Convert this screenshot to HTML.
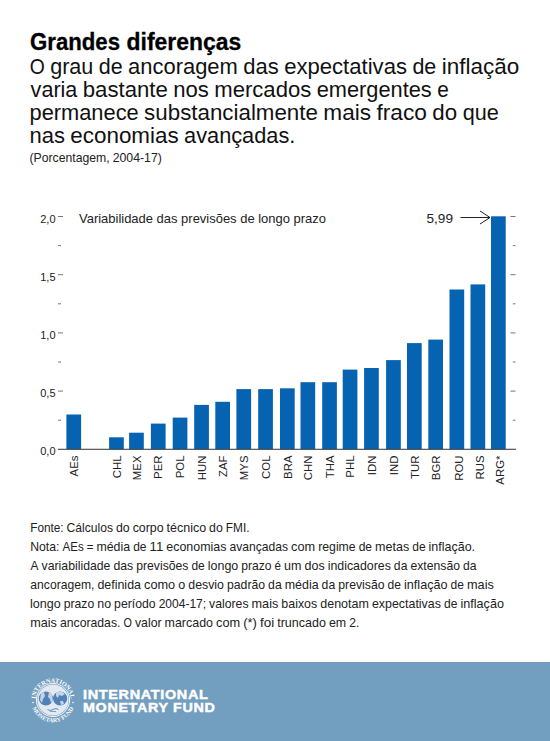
<!DOCTYPE html>
<html><head><meta charset="utf-8">
<style>
html,body{margin:0;padding:0;background:#fff;width:550px;height:741px;overflow:hidden}
svg{display:block;font-family:"Liberation Sans",sans-serif}
.lab{font-size:11.4px;fill:#222}
.ax{font-size:11px;fill:#222}
</style></head><body>
<svg width="550" height="741" viewBox="0 0 550 741">
<rect width="550" height="741" fill="#fff"/>
<text x="30.0" y="50.3" font-size="23.2" font-weight="bold" fill="#000" textLength="90.0" lengthAdjust="spacingAndGlyphs" stroke="#000" stroke-width="0.3">Grandes</text>
<text x="126.6" y="50.3" font-size="23.2" font-weight="bold" fill="#000" textLength="114.6" lengthAdjust="spacingAndGlyphs" stroke="#000" stroke-width="0.3">diferenças</text>
<text x="29.74" y="73.6" font-size="22.0" fill="#111" textLength="15.03" lengthAdjust="spacingAndGlyphs">O</text>
<text x="50.20" y="73.6" font-size="22.0" fill="#111" textLength="43.18" lengthAdjust="spacingAndGlyphs">grau</text>
<text x="98.79" y="73.6" font-size="22.0" fill="#111" textLength="23.91" lengthAdjust="spacingAndGlyphs">de</text>
<text x="128.12" y="73.6" font-size="22.0" fill="#111" textLength="109.73" lengthAdjust="spacingAndGlyphs">ancoragem</text>
<text x="243.27" y="73.6" font-size="22.0" fill="#111" textLength="35.49" lengthAdjust="spacingAndGlyphs">das</text>
<text x="284.18" y="73.6" font-size="22.0" fill="#111" textLength="122.80" lengthAdjust="spacingAndGlyphs">expectativas</text>
<text x="412.40" y="73.6" font-size="22.0" fill="#111" textLength="23.91" lengthAdjust="spacingAndGlyphs">de</text>
<text x="441.73" y="73.6" font-size="22.0" fill="#111" textLength="77.46" lengthAdjust="spacingAndGlyphs">inflação</text>
<text x="30.62" y="96.6" font-size="22.0" fill="#111" textLength="46.76" lengthAdjust="spacingAndGlyphs">varia</text>
<text x="82.78" y="96.6" font-size="22.0" fill="#111" textLength="84.99" lengthAdjust="spacingAndGlyphs">bastante</text>
<text x="173.17" y="96.6" font-size="22.0" fill="#111" textLength="35.69" lengthAdjust="spacingAndGlyphs">nos</text>
<text x="214.26" y="96.6" font-size="22.0" fill="#111" textLength="97.02" lengthAdjust="spacingAndGlyphs">mercados</text>
<text x="316.68" y="96.6" font-size="22.0" fill="#111" textLength="115.09" lengthAdjust="spacingAndGlyphs">emergentes</text>
<text x="437.18" y="96.6" font-size="22.0" fill="#111" textLength="11.55" lengthAdjust="spacingAndGlyphs">e</text>
<text x="29.52" y="119.5" font-size="22.0" fill="#111" textLength="109.18" lengthAdjust="spacingAndGlyphs">permanece</text>
<text x="144.13" y="119.5" font-size="22.0" fill="#111" textLength="173.78" lengthAdjust="spacingAndGlyphs">substancialmente</text>
<text x="323.34" y="119.5" font-size="22.0" fill="#111" textLength="47.72" lengthAdjust="spacingAndGlyphs">mais</text>
<text x="376.50" y="119.5" font-size="22.0" fill="#111" textLength="50.45" lengthAdjust="spacingAndGlyphs">fraco</text>
<text x="432.37" y="119.5" font-size="22.0" fill="#111" textLength="24.83" lengthAdjust="spacingAndGlyphs">do</text>
<text x="462.63" y="119.5" font-size="22.0" fill="#111" textLength="36.12" lengthAdjust="spacingAndGlyphs">que</text>
<text x="29.46" y="142.6" font-size="22.0" fill="#111" textLength="35.43" lengthAdjust="spacingAndGlyphs">nas</text>
<text x="70.34" y="142.6" font-size="22.0" fill="#111" textLength="108.27" lengthAdjust="spacingAndGlyphs">economias</text>
<text x="184.06" y="142.6" font-size="22.0" fill="#111" textLength="111.30" lengthAdjust="spacingAndGlyphs">avançadas.</text>
<text x="29.50" y="161.8" font-size="12.9" fill="#222" textLength="80.13" lengthAdjust="spacingAndGlyphs">(Porcentagem,</text>
<text x="112.68" y="161.8" font-size="12.9" fill="#222" textLength="49.20" lengthAdjust="spacingAndGlyphs">2004-17)</text>
<text x="79" y="222.7" font-size="12.8" fill="#222" textLength="247" lengthAdjust="spacingAndGlyphs">Variabilidade das previsões de longo prazo</text>
<text x="426.5" y="222.7" font-size="12.2" fill="#222" textLength="26.5" lengthAdjust="spacingAndGlyphs">5,99</text>
<path d="M460.5 217.5 H490 M480 211 L490 217.5 L480 224" stroke="#222" stroke-width="1" fill="none"/>
<rect x="66.40" y="414.50" width="14.7" height="34.80" fill="#0663b1"/>
<text transform="translate(77.95,455.5) rotate(-90)" text-anchor="end" class="lab">AEs</text>
<rect x="109.10" y="437.30" width="14.7" height="12.00" fill="#0663b1"/>
<text transform="translate(120.65,455.5) rotate(-90)" text-anchor="end" class="lab">CHL</text>
<rect x="129.10" y="432.70" width="14.7" height="16.60" fill="#0663b1"/>
<text transform="translate(140.65,455.5) rotate(-90)" text-anchor="end" class="lab">MEX</text>
<rect x="150.90" y="423.60" width="14.7" height="25.70" fill="#0663b1"/>
<text transform="translate(162.45,455.5) rotate(-90)" text-anchor="end" class="lab">PER</text>
<rect x="172.70" y="417.60" width="14.7" height="31.70" fill="#0663b1"/>
<text transform="translate(184.25,455.5) rotate(-90)" text-anchor="end" class="lab">POL</text>
<rect x="194.20" y="404.90" width="14.7" height="44.40" fill="#0663b1"/>
<text transform="translate(205.75,455.5) rotate(-90)" text-anchor="end" class="lab">HUN</text>
<rect x="215.30" y="401.80" width="14.7" height="47.50" fill="#0663b1"/>
<text transform="translate(226.85,455.5) rotate(-90)" text-anchor="end" class="lab">ZAF</text>
<rect x="236.40" y="389.10" width="14.7" height="60.20" fill="#0663b1"/>
<text transform="translate(247.95,455.5) rotate(-90)" text-anchor="end" class="lab">MYS</text>
<rect x="258.20" y="389.10" width="14.7" height="60.20" fill="#0663b1"/>
<text transform="translate(269.75,455.5) rotate(-90)" text-anchor="end" class="lab">COL</text>
<rect x="280.00" y="388.30" width="14.7" height="61.00" fill="#0663b1"/>
<text transform="translate(291.55,455.5) rotate(-90)" text-anchor="end" class="lab">BRA</text>
<rect x="300.50" y="382.20" width="14.7" height="67.10" fill="#0663b1"/>
<text transform="translate(312.05,455.5) rotate(-90)" text-anchor="end" class="lab">CHN</text>
<rect x="322.20" y="382.20" width="14.7" height="67.10" fill="#0663b1"/>
<text transform="translate(333.75,455.5) rotate(-90)" text-anchor="end" class="lab">THA</text>
<rect x="342.70" y="369.60" width="14.7" height="79.70" fill="#0663b1"/>
<text transform="translate(354.25,455.5) rotate(-90)" text-anchor="end" class="lab">PHL</text>
<rect x="364.10" y="368.00" width="14.7" height="81.30" fill="#0663b1"/>
<text transform="translate(375.65,455.5) rotate(-90)" text-anchor="end" class="lab">IDN</text>
<rect x="386.10" y="360.10" width="14.7" height="89.20" fill="#0663b1"/>
<text transform="translate(397.65,455.5) rotate(-90)" text-anchor="end" class="lab">IND</text>
<rect x="407.00" y="343.10" width="14.7" height="106.20" fill="#0663b1"/>
<text transform="translate(418.55,455.5) rotate(-90)" text-anchor="end" class="lab">TUR</text>
<rect x="428.30" y="339.60" width="14.7" height="109.70" fill="#0663b1"/>
<text transform="translate(439.85,455.5) rotate(-90)" text-anchor="end" class="lab">BGR</text>
<rect x="449.50" y="289.50" width="14.7" height="159.80" fill="#0663b1"/>
<text transform="translate(462.65,455.5) rotate(-90)" text-anchor="end" class="lab">ROU</text>
<rect x="470.50" y="284.40" width="14.7" height="164.90" fill="#0663b1"/>
<text transform="translate(483.65,455.5) rotate(-90)" text-anchor="end" class="lab">RUS</text>
<rect x="491.00" y="216.30" width="14.7" height="233.00" fill="#0663b1"/>
<text transform="translate(504.15,455.5) rotate(-90)" text-anchor="end" class="lab">ARG*</text>
<rect x="58" y="448.75" width="458" height="1.1" fill="#444"/>
<text x="55.5" y="455.30" text-anchor="end" class="ax">0,0</text>
<rect x="58" y="390.60" width="5" height="1" fill="#777"/>
<rect x="510.5" y="390.60" width="5" height="1" fill="#777"/>
<text x="55.5" y="397.10" text-anchor="end" class="ax">0,5</text>
<rect x="58" y="332.40" width="5" height="1" fill="#777"/>
<rect x="510.5" y="332.40" width="5" height="1" fill="#777"/>
<text x="55.5" y="338.90" text-anchor="end" class="ax">1,0</text>
<rect x="58" y="274.20" width="5" height="1" fill="#777"/>
<rect x="510.5" y="274.20" width="5" height="1" fill="#777"/>
<text x="55.5" y="280.70" text-anchor="end" class="ax">1,5</text>
<rect x="58" y="216.00" width="5" height="1" fill="#777"/>
<rect x="510.5" y="216.00" width="5" height="1" fill="#777"/>
<text x="55.5" y="222.50" text-anchor="end" class="ax">2,0</text>
<rect x="58" y="419.70" width="3" height="1" fill="#777"/>
<rect x="512.8" y="419.70" width="2.7" height="1" fill="#777"/>
<rect x="58" y="361.50" width="3" height="1" fill="#777"/>
<rect x="512.8" y="361.50" width="2.7" height="1" fill="#777"/>
<rect x="58" y="303.30" width="3" height="1" fill="#777"/>
<rect x="512.8" y="303.30" width="2.7" height="1" fill="#777"/>
<rect x="58" y="245.10" width="3" height="1" fill="#777"/>
<rect x="512.8" y="245.10" width="2.7" height="1" fill="#777"/>
<text x="30.20" y="531.8" font-size="12.1" fill="#222" textLength="33.39" lengthAdjust="spacingAndGlyphs">Fonte:</text>
<text x="66.58" y="531.8" font-size="12.1" fill="#222" textLength="46.40" lengthAdjust="spacingAndGlyphs">Cálculos</text>
<text x="115.98" y="531.8" font-size="12.1" fill="#222" textLength="13.70" lengthAdjust="spacingAndGlyphs">do</text>
<text x="132.67" y="531.8" font-size="12.1" fill="#222" textLength="30.97" lengthAdjust="spacingAndGlyphs">corpo</text>
<text x="166.63" y="531.8" font-size="12.1" fill="#222" textLength="39.49" lengthAdjust="spacingAndGlyphs">técnico</text>
<text x="209.12" y="531.8" font-size="12.1" fill="#222" textLength="13.70" lengthAdjust="spacingAndGlyphs">do</text>
<text x="225.81" y="531.8" font-size="12.1" fill="#222" textLength="23.69" lengthAdjust="spacingAndGlyphs">FMI.</text>
<text x="30.19" y="550.8" font-size="12.1" fill="#222" textLength="29.26" lengthAdjust="spacingAndGlyphs">Nota:</text>
<text x="62.48" y="550.8" font-size="12.1" fill="#222" textLength="21.20" lengthAdjust="spacingAndGlyphs">AEs</text>
<text x="86.71" y="550.8" font-size="12.1" fill="#222" textLength="6.70" lengthAdjust="spacingAndGlyphs">=</text>
<text x="96.44" y="550.8" font-size="12.1" fill="#222" textLength="33.67" lengthAdjust="spacingAndGlyphs">média</text>
<text x="133.14" y="550.8" font-size="12.1" fill="#222" textLength="13.36" lengthAdjust="spacingAndGlyphs">de</text>
<text x="149.52" y="550.8" font-size="12.1" fill="#222" textLength="13.72" lengthAdjust="spacingAndGlyphs">11</text>
<text x="166.27" y="550.8" font-size="12.1" fill="#222" textLength="60.14" lengthAdjust="spacingAndGlyphs">economias</text>
<text x="229.44" y="550.8" font-size="12.1" fill="#222" textLength="58.61" lengthAdjust="spacingAndGlyphs">avançadas</text>
<text x="291.08" y="550.8" font-size="12.1" fill="#222" textLength="24.06" lengthAdjust="spacingAndGlyphs">com</text>
<text x="318.16" y="550.8" font-size="12.1" fill="#222" textLength="37.50" lengthAdjust="spacingAndGlyphs">regime</text>
<text x="358.69" y="550.8" font-size="12.1" fill="#222" textLength="13.36" lengthAdjust="spacingAndGlyphs">de</text>
<text x="375.07" y="550.8" font-size="12.1" fill="#222" textLength="34.11" lengthAdjust="spacingAndGlyphs">metas</text>
<text x="412.21" y="550.8" font-size="12.1" fill="#222" textLength="13.36" lengthAdjust="spacingAndGlyphs">de</text>
<text x="428.60" y="550.8" font-size="12.1" fill="#222" textLength="46.49" lengthAdjust="spacingAndGlyphs">inflação.</text>
<text x="30.62" y="569.8" font-size="12.1" fill="#222" textLength="7.96" lengthAdjust="spacingAndGlyphs">A</text>
<text x="41.60" y="569.8" font-size="12.1" fill="#222" textLength="68.79" lengthAdjust="spacingAndGlyphs">variabilidade</text>
<text x="113.41" y="569.8" font-size="12.1" fill="#222" textLength="19.81" lengthAdjust="spacingAndGlyphs">das</text>
<text x="136.25" y="569.8" font-size="12.1" fill="#222" textLength="52.14" lengthAdjust="spacingAndGlyphs">previsões</text>
<text x="191.41" y="569.8" font-size="12.1" fill="#222" textLength="13.35" lengthAdjust="spacingAndGlyphs">de</text>
<text x="207.79" y="569.8" font-size="12.1" fill="#222" textLength="30.46" lengthAdjust="spacingAndGlyphs">longo</text>
<text x="241.27" y="569.8" font-size="12.1" fill="#222" textLength="30.29" lengthAdjust="spacingAndGlyphs">prazo</text>
<text x="274.59" y="569.8" font-size="12.1" fill="#222" textLength="6.47" lengthAdjust="spacingAndGlyphs">é</text>
<text x="284.08" y="569.8" font-size="12.1" fill="#222" textLength="17.42" lengthAdjust="spacingAndGlyphs">um</text>
<text x="304.52" y="569.8" font-size="12.1" fill="#222" textLength="20.13" lengthAdjust="spacingAndGlyphs">dos</text>
<text x="327.68" y="569.8" font-size="12.1" fill="#222" textLength="63.18" lengthAdjust="spacingAndGlyphs">indicadores</text>
<text x="393.88" y="569.8" font-size="12.1" fill="#222" textLength="13.51" lengthAdjust="spacingAndGlyphs">da</text>
<text x="410.42" y="569.8" font-size="12.1" fill="#222" textLength="49.60" lengthAdjust="spacingAndGlyphs">extensão</text>
<text x="463.04" y="569.8" font-size="12.1" fill="#222" textLength="13.51" lengthAdjust="spacingAndGlyphs">da</text>
<text x="30.36" y="588.8" font-size="12.1" fill="#222" textLength="64.02" lengthAdjust="spacingAndGlyphs">ancoragem,</text>
<text x="97.42" y="588.8" font-size="12.1" fill="#222" textLength="43.57" lengthAdjust="spacingAndGlyphs">definida</text>
<text x="144.03" y="588.8" font-size="12.1" fill="#222" textLength="31.17" lengthAdjust="spacingAndGlyphs">como</text>
<text x="178.25" y="588.8" font-size="12.1" fill="#222" textLength="7.00" lengthAdjust="spacingAndGlyphs">o</text>
<text x="188.29" y="588.8" font-size="12.1" fill="#222" textLength="35.68" lengthAdjust="spacingAndGlyphs">desvio</text>
<text x="227.01" y="588.8" font-size="12.1" fill="#222" textLength="38.07" lengthAdjust="spacingAndGlyphs">padrão</text>
<text x="268.11" y="588.8" font-size="12.1" fill="#222" textLength="13.59" lengthAdjust="spacingAndGlyphs">da</text>
<text x="284.75" y="588.8" font-size="12.1" fill="#222" textLength="33.84" lengthAdjust="spacingAndGlyphs">média</text>
<text x="321.63" y="588.8" font-size="12.1" fill="#222" textLength="13.59" lengthAdjust="spacingAndGlyphs">da</text>
<text x="338.26" y="588.8" font-size="12.1" fill="#222" textLength="46.28" lengthAdjust="spacingAndGlyphs">previsão</text>
<text x="387.59" y="588.8" font-size="12.1" fill="#222" textLength="13.42" lengthAdjust="spacingAndGlyphs">de</text>
<text x="404.06" y="588.8" font-size="12.1" fill="#222" textLength="43.49" lengthAdjust="spacingAndGlyphs">inflação</text>
<text x="450.59" y="588.8" font-size="12.1" fill="#222" textLength="13.42" lengthAdjust="spacingAndGlyphs">de</text>
<text x="467.05" y="588.8" font-size="12.1" fill="#222" textLength="26.75" lengthAdjust="spacingAndGlyphs">mais</text>
<text x="30.08" y="607.8" font-size="12.1" fill="#222" textLength="30.65" lengthAdjust="spacingAndGlyphs">longo</text>
<text x="63.78" y="607.8" font-size="12.1" fill="#222" textLength="30.48" lengthAdjust="spacingAndGlyphs">prazo</text>
<text x="97.30" y="607.8" font-size="12.1" fill="#222" textLength="13.78" lengthAdjust="spacingAndGlyphs">no</text>
<text x="114.12" y="607.8" font-size="12.1" fill="#222" textLength="41.52" lengthAdjust="spacingAndGlyphs">período</text>
<text x="158.69" y="607.8" font-size="12.1" fill="#222" textLength="47.38" lengthAdjust="spacingAndGlyphs">2004-17;</text>
<text x="209.11" y="607.8" font-size="12.1" fill="#222" textLength="39.40" lengthAdjust="spacingAndGlyphs">valores</text>
<text x="251.55" y="607.8" font-size="12.1" fill="#222" textLength="26.76" lengthAdjust="spacingAndGlyphs">mais</text>
<text x="281.36" y="607.8" font-size="12.1" fill="#222" textLength="35.86" lengthAdjust="spacingAndGlyphs">baixos</text>
<text x="320.26" y="607.8" font-size="12.1" fill="#222" textLength="48.66" lengthAdjust="spacingAndGlyphs">denotam</text>
<text x="371.96" y="607.8" font-size="12.1" fill="#222" textLength="68.98" lengthAdjust="spacingAndGlyphs">expectativas</text>
<text x="443.99" y="607.8" font-size="12.1" fill="#222" textLength="13.43" lengthAdjust="spacingAndGlyphs">de</text>
<text x="460.46" y="607.8" font-size="12.1" fill="#222" textLength="43.51" lengthAdjust="spacingAndGlyphs">inflação</text>
<text x="30.17" y="626.8" font-size="12.1" fill="#222" textLength="26.70" lengthAdjust="spacingAndGlyphs">mais</text>
<text x="59.91" y="626.8" font-size="12.1" fill="#222" textLength="60.52" lengthAdjust="spacingAndGlyphs">ancoradas.</text>
<text x="123.47" y="626.8" font-size="12.1" fill="#222" textLength="8.43" lengthAdjust="spacingAndGlyphs">O</text>
<text x="134.94" y="626.8" font-size="12.1" fill="#222" textLength="26.62" lengthAdjust="spacingAndGlyphs">valor</text>
<text x="164.59" y="626.8" font-size="12.1" fill="#222" textLength="48.41" lengthAdjust="spacingAndGlyphs">marcado</text>
<text x="216.04" y="626.8" font-size="12.1" fill="#222" textLength="24.14" lengthAdjust="spacingAndGlyphs">com</text>
<text x="243.21" y="626.8" font-size="12.1" fill="#222" textLength="13.73" lengthAdjust="spacingAndGlyphs">(*)</text>
<text x="259.98" y="626.8" font-size="12.1" fill="#222" textLength="14.22" lengthAdjust="spacingAndGlyphs">foi</text>
<text x="277.24" y="626.8" font-size="12.1" fill="#222" textLength="48.64" lengthAdjust="spacingAndGlyphs">truncado</text>
<text x="328.92" y="626.8" font-size="12.1" fill="#222" textLength="17.24" lengthAdjust="spacingAndGlyphs">em</text>
<text x="349.20" y="626.8" font-size="12.1" fill="#222" textLength="10.11" lengthAdjust="spacingAndGlyphs">2.</text>
<rect x="0" y="662" width="550" height="79" fill="#729ec0"/>
<text x="83" y="698.6" font-size="12.9" font-weight="bold" fill="#fff" stroke="#fff" stroke-width="0.45" letter-spacing="0.6" textLength="125.5" lengthAdjust="spacingAndGlyphs">INTERNATIONAL</text>
<text x="83" y="712.4" font-size="12.9" font-weight="bold" fill="#fff" stroke="#fff" stroke-width="0.45" letter-spacing="0.6" textLength="132.5" lengthAdjust="spacingAndGlyphs">MONETARY FUND</text>

<defs>
<path id="arcT" d="M35.50 701.84 A17.6 17.6 0 1 1 70.50 701.84"/>
<path id="arcB" d="M31.66 706.12 A22.2 22.2 0 0 0 74.34 706.12"/>
<clipPath id="hemi"><circle cx="45.9" cy="698.5" r="7.1"/><circle cx="60.1" cy="698.5" r="7.1"/></clipPath>
</defs>
<circle cx="53.0" cy="700" r="15.6" fill="#e2e9f1"/>
<circle cx="53.0" cy="700" r="16.6" fill="none" stroke="#f4f7fa" stroke-width="1.0"/>
<g clip-path="url(#hemi)">
<rect x="38.0" y="690" width="30" height="18" fill="#4f82b6"/>
<path d="M41.0 693 l3 -1 l1 4 l-2 3 l-1 4 l-2 -3z" fill="#e2e9f1" opacity="0.8"/>
<path d="M49.0 692 l3 0 l1 3 l-1 2 l1 3 l-2 3 l-1 -4 l-2 -2z" fill="#e2e9f1" opacity="0.8"/>
<path d="M56.0 692 l5 -1 l4 3 l-3 2 l-3 -1 l-1 3 l-2 -2z" fill="#e2e9f1" opacity="0.8"/>
<path d="M60.0 701 l3 0 l1 3 l-3 1z" fill="#e2e9f1" opacity="0.8"/>
</g>
<path d="M47.5 709.5 q2.5 2 5.5 0 q3 -2 5.5 0" stroke="#4f82b6" stroke-width="0.9" fill="none"/>
<path d="M50.0 711.5 h6" stroke="#4f82b6" stroke-width="0.7" fill="none"/>
<text font-family="Liberation Serif" font-weight="bold" font-size="6.2" fill="#fff"><textPath href="#arcT" startOffset="50%" text-anchor="middle">INTERNATIONAL</textPath></text>
<text font-family="Liberation Serif" font-weight="bold" font-size="6.0" fill="#fff"><textPath href="#arcB" startOffset="50%" text-anchor="middle">MONETARY FUND</textPath></text>
<circle cx="33.0" cy="702.5" r="0.8" fill="#fff"/>
<circle cx="73.0" cy="702.5" r="0.8" fill="#fff"/>

</svg>
</body></html>
